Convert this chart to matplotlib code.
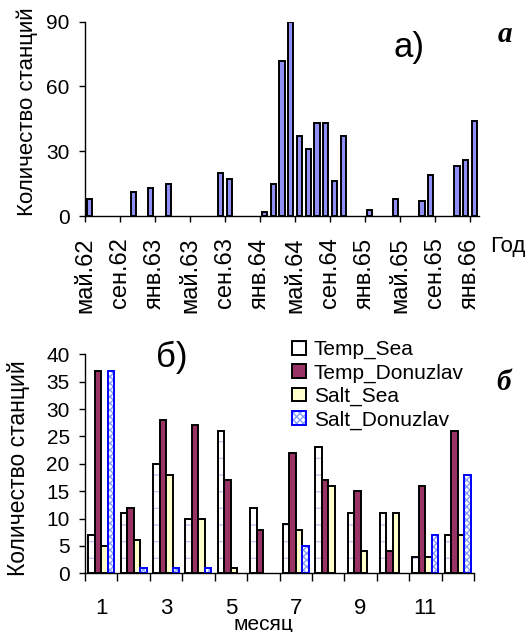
import matplotlib
matplotlib.use("Agg")
import matplotlib.pyplot as plt
from matplotlib.patches import Patch
from matplotlib.legend_handler import HandlerTuple
import numpy as np

plt.rcParams['font.family'] = ['Liberation Sans', 'DejaVu Sans']
plt.rcParams['hatch.linewidth'] = 1.0

# --- panel a: stations per month (months counted from май.62) ---
MONTH_IDX = [0, 5, 7, 9, 15, 16, 20, 21, 22, 23, 24, 25, 26, 27, 28, 29,
             32, 35, 38, 39, 42, 43, 44]
COUNTS = [8, 11, 13, 15, 20, 17, 2, 15, 72, 90, 37, 31, 43, 43, 16, 37,
          3, 8, 7, 19, 23, 26, 44]
DATE_LABELS = ['май.62', 'сен.62', 'янв.63', 'май.63', 'сен.63', 'янв.64',
               'май.64', 'сен.64', 'янв.65', 'май.65', 'сен.65', 'янв.66']

# --- panel б: stations per calendar month ---
MONTHS = list(range(1, 13))
TEMP_SEA = [7, 11, 20, 10, 26, 12, 9, 23, 11, 11, 3, 7]
TEMP_DON = [37, 12, 28, 27, 17, 8, 22, 17, 15, 4, 16, 26]
SALT_SEA = [5, 6, 18, 10, 1, 0, 8, 16, 4, 11, 3, 7]
SALT_DON = [37, 1, 1, 1, 0, 0, 5, 0, 0, 0, 7, 18]
SERIES = ['Temp_Sea', 'Temp_Donuzlav', 'Salt_Sea', 'Salt_Donuzlav']

W, H = 526, 632
FS = 15
fig = plt.figure(figsize=(W / 100, H / 100), dpi=100)


def px_axes(left, right, top, bottom):
    return fig.add_axes([left / W, 1 - bottom / H, (right - left) / W, (bottom - top) / H])


def style(ax):
    for s in ['top', 'right']:
        ax.spines[s].set_visible(False)
    for s in ['left', 'bottom']:
        ax.spines[s].set_linewidth(1.0)
    ax.tick_params(axis='y', direction='out', length=4, width=1, pad=7, labelsize=FS)


# panel a
ax1 = px_axes(85, 479, 21.7, 216)
ax1.bar(np.array(MONTH_IDX) + 0.5, COUNTS, width=0.6, color='#8f8ff5',
        edgecolor='black', linewidth=1.4)
ax1.set_xlim(0, 45)
ax1.set_ylim(0, 90)
ax1.set_yticks([0, 30, 60, 90])
ax1.set_xticks(np.arange(0, 4 * len(DATE_LABELS), 4))
ax1.set_xticklabels(DATE_LABELS, rotation=90, va='top')
ax1.tick_params(axis='x', direction='out', length=4.5, width=1, pad=11, labelsize=17)
style(ax1)

# panel б
ax2 = px_axes(85, 474, 354.3, 573.3)
x = np.arange(len(MONTHS))
bw = 0.2


def bars(vals, k, **kw):
    v = np.asarray(vals, dtype=float)
    m = v > 0
    ax2.bar(x[m] + 0.1 + k * bw, v[m], width=bw, align='edge', **kw)


bars(TEMP_SEA, 0, facecolor='white', hatch='-', edgecolor='#c4c4f0', linewidth=0)
bars(TEMP_SEA, 0, fill=False, edgecolor='black', linewidth=1.4)
bars(TEMP_DON, 1, facecolor='#993366', edgecolor='black', linewidth=1.4)
bars(SALT_SEA, 2, facecolor='#ffffcc', edgecolor='black', linewidth=1.4)
bars(SALT_DON, 3, facecolor='white', hatch='xxxxx', edgecolor='#86a0ff', linewidth=0)
bars(SALT_DON, 3, fill=False, edgecolor='#0000ff', linewidth=1.4)

ax2.set_xlim(0, 12)
ax2.set_ylim(0, 40)
ax2.set_yticks(np.arange(0, 41, 5))
ax2.set_xticks(np.arange(0, 13))
ax2.set_xticklabels([])
ax2.set_xticks(x[::2] + 0.5, minor=True)
ax2.set_xticklabels([str(m) for m in MONTHS[::2]], minor=True)
ax2.tick_params(axis='x', which='major', direction='out', length=6, width=1)
ax2.tick_params(axis='x', which='minor', length=0, pad=18, labelsize=FS + 1)
style(ax2)

h_ts = (Patch(facecolor='white', hatch='-', edgecolor='#c4c4f0', linewidth=0),
        Patch(fill=False, edgecolor='black', linewidth=1.4))
h_td = Patch(facecolor='#993366', edgecolor='black', linewidth=1.4)
h_ss = Patch(facecolor='#ffffcc', edgecolor='black', linewidth=1.4)
h_sd = (Patch(facecolor='white', hatch='xxxxx', edgecolor='#86a0ff', linewidth=0),
        Patch(fill=False, edgecolor='#0000ff', linewidth=1.4))
fig.legend([h_ts, h_td, h_ss, h_sd], SERIES, loc='upper left',
           bbox_to_anchor=(292 / W, 1 - 340 / H), frameon=False, fontsize=FS,
           handlelength=0.65, handleheight=0.65, handletextpad=0.4,
           labelspacing=0.2, borderpad=0, borderaxespad=0,
           handler_map={tuple: HandlerTuple(ndivide=1, pad=0)})

# labels and panel marks
fig.text(27 / W, 1 - 112 / H, 'Количество станций', rotation=90,
         ha='center', va='center', fontsize=16)
fig.text(19 / W, 1 - 468 / H, 'Количество станций', rotation=90,
         ha='center', va='center', fontsize=16.5)
fig.text(490 / W, 1 - 246 / H, 'Год', ha='left', va='center', fontsize=16)
fig.text(263 / W, 1 - 624 / H, 'месяц', ha='center', va='center', fontsize=FS)
fig.text(409 / W, 1 - 48 / H, 'а)', ha='center', va='center', fontsize=25)
fig.text(172 / W, 1 - 357 / H, 'б)', ha='center', va='center', fontsize=25)
fig.text(505 / W, 1 - 35 / H, 'а', ha='center', va='center', fontsize=21,
         family='Liberation Serif', weight='bold', style='italic')
fig.text(504 / W, 1 - 383 / H, 'б', ha='center', va='center', fontsize=21,
         family='Liberation Serif', weight='bold', style='italic')

fig.savefig('out.png', dpi=100)
